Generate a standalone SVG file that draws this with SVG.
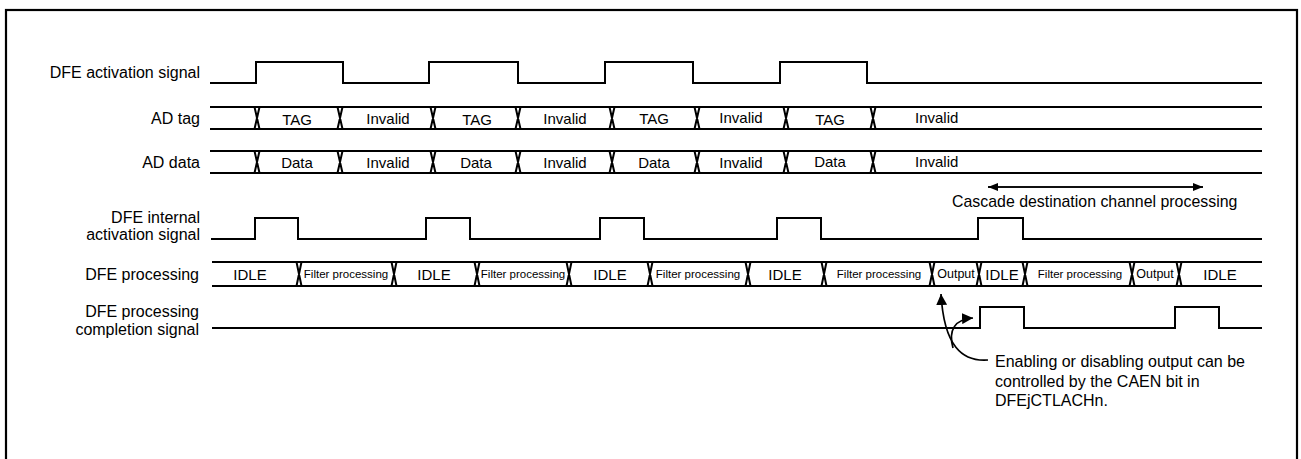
<svg xmlns="http://www.w3.org/2000/svg" width="1301" height="459" viewBox="0 0 1301 459">
<style>
.sig{fill:none;stroke:#000;stroke-width:2;stroke-linejoin:miter}
.x{fill:none;stroke:#000;stroke-width:2}
text{font-family:"Liberation Sans",Arial,sans-serif;fill:#000}
.lbl{font-size:16px;text-anchor:end}
.t{font-size:15px;text-anchor:middle}
.ts{font-size:11.5px;text-anchor:middle}
.to{font-size:12.5px;text-anchor:middle}
.note{font-size:16px}
</style>
<defs>
<marker id="ah" markerUnits="userSpaceOnUse" markerWidth="11" markerHeight="8" refX="10" refY="4" orient="auto-start-reverse">
<path d="M0,0 L10,4 L0,8 Z" fill="#000"/>
</marker>
<marker id="ah2" markerUnits="userSpaceOnUse" markerWidth="12" markerHeight="11" refX="11" refY="5.5" orient="auto">
<path d="M0,0 L11,5.5 L0,11 Z" fill="#000"/>
</marker>
</defs>
<rect x="6" y="10" width="1291" height="470" fill="#fff" stroke="#000" stroke-width="2.2"/>

<g id="dfe-activation">
<text class="lbl" x="200" y="78">DFE activation signal</text>
<path class="sig" d="M210,83 H256 V62 H343 V83 H429 V62 H518 V83 H605 V62 H693 V83 H780 V62 H867 V83 H1262"/>
</g>

<g id="ad-tag">
<text class="lbl" x="200" y="124">AD tag</text>
<path class="sig" d="M210,107 H1262 M210,129 H1262"/>
<path class="x" d="M254.5,107 L259.5,129 M259.5,107 L254.5,129 M337.5,107 L342.5,129 M342.5,107 L337.5,129 M430.5,107 L435.5,129 M435.5,107 L430.5,129 M515.5,107 L520.5,129 M520.5,107 L515.5,129 M609.5,107 L614.5,129 M614.5,107 L609.5,129 M694.5,107 L699.5,129 M699.5,107 L694.5,129 M783.5,107 L788.5,129 M788.5,107 L783.5,129 M870.5,107 L875.5,129 M875.5,107 L870.5,129"/>
<text class="t" x="297" y="124.5">TAG</text>
<text class="t" x="388" y="124">Invalid</text>
<text class="t" x="477" y="124.5">TAG</text>
<text class="t" x="565" y="124">Invalid</text>
<text class="t" x="654" y="124">TAG</text>
<text class="t" x="741" y="123">Invalid</text>
<text class="t" x="830" y="124.5">TAG</text>
<text x="915" y="123" font-size="15">Invalid</text>
</g>

<g id="ad-data">
<text class="lbl" x="200" y="168">AD data</text>
<path class="sig" d="M210,151 H1262 M210,173 H1262"/>
<path class="x" d="M254.5,151 L259.5,173 M259.5,151 L254.5,173 M337.5,151 L342.5,173 M342.5,151 L337.5,173 M430.5,151 L435.5,173 M435.5,151 L430.5,173 M515.5,151 L520.5,173 M520.5,151 L515.5,173 M609.5,151 L614.5,173 M614.5,151 L609.5,173 M694.5,151 L699.5,173 M699.5,151 L694.5,173 M783.5,151 L788.5,173 M788.5,151 L783.5,173 M870.5,151 L875.5,173 M875.5,151 L870.5,173"/>
<text class="t" x="297" y="168">Data</text>
<text class="t" x="388" y="168">Invalid</text>
<text class="t" x="476" y="168">Data</text>
<text class="t" x="565" y="168">Invalid</text>
<text class="t" x="654" y="168">Data</text>
<text class="t" x="741" y="168">Invalid</text>
<text class="t" x="830" y="167">Data</text>
<text x="915" y="167" font-size="15">Invalid</text>
</g>

<g id="cascade-note">
<text x="952" y="207" font-size="15.9">Cascade destination channel processing</text>
</g>

<g id="dfe-internal-activation">
<text class="lbl" x="200" y="223">DFE internal</text>
<text class="lbl" x="200" y="240">activation signal</text>
<path class="sig" d="M211,239 H255 V218 H298 V239 H426 V218 H470 V239 H600 V218 H644 V239 H777 V218 H821 V239 H978 V218 H1023 V239 H1262"/>
</g>

<g id="dfe-processing">
<text class="lbl" x="199" y="280">DFE processing</text>
<path class="sig" d="M212,262 H1262 M212,286 H1262"/>
<path class="x" d="M296.5,262 L301.5,286 M301.5,262 L296.5,286 M391.5,262 L396.5,286 M396.5,262 L391.5,286 M474.5,262 L479.5,286 M479.5,262 L474.5,286 M566.5,262 L571.5,286 M571.5,262 L566.5,286 M647.5,262 L652.5,286 M652.5,262 L647.5,286 M745.5,262 L750.5,286 M750.5,262 L745.5,286 M821.5,262 L826.5,286 M826.5,262 L821.5,286 M929.5,262 L934.5,286 M934.5,262 L929.5,286 M976.5,262 L981.5,286 M981.5,262 L976.5,286 M1022.5,262 L1027.5,286 M1027.5,262 L1022.5,286 M1129.5,262 L1134.5,286 M1134.5,262 L1129.5,286 M1176.5,262 L1181.5,286 M1181.5,262 L1176.5,286"/>
<text class="t" x="250" y="280">IDLE</text>
<text class="ts" x="346" y="278">Filter processing</text>
<text class="t" x="434" y="280">IDLE</text>
<text class="ts" x="523" y="278">Filter processing</text>
<text class="t" x="610" y="280">IDLE</text>
<text class="ts" x="698" y="278">Filter processing</text>
<text class="t" x="785" y="280">IDLE</text>
<text class="ts" x="879" y="278">Filter processing</text>
<text class="to" x="956" y="278">Output</text>
<text class="t" x="1002" y="280" font-size="16">IDLE</text>
<text class="ts" x="1080" y="278">Filter processing</text>
<text class="to" x="1155" y="278">Output</text>
<text class="t" x="1220" y="280">IDLE</text>
</g>

<g id="dfe-completion">
<text class="lbl" x="199" y="317">DFE processing</text>
<text class="lbl" x="199" y="335">completion signal</text>
<path class="sig" d="M212,328 H980 V307 H1024 V328 H1175 V307 H1219 V328 H1262"/>
</g>

<g id="caen-note">
<text class="note" x="995" y="367">Enabling or disabling output can be</text>
<text class="note" x="995" y="387">controlled by the CAEN bit in</text>
<text class="note" x="995" y="406">DFEjCTLACHn.</text>
</g>

<g id="connectors">
<path d="M988,187 H1203" fill="none" stroke="#000" stroke-width="1.6" marker-end="url(#ah)"/>
<path d="M1203,187 H988" fill="none" stroke="#000" stroke-width="1.6" marker-end="url(#ah)"/>
<path d="M988,360 C962,362 944,346 941,294" fill="none" stroke="#000" stroke-width="1.7" marker-end="url(#ah2)"/>
<path d="M953,348 C948,330 955,319 973,318" fill="none" stroke="#000" stroke-width="1.7" marker-end="url(#ah2)"/>
</g>
</svg>
